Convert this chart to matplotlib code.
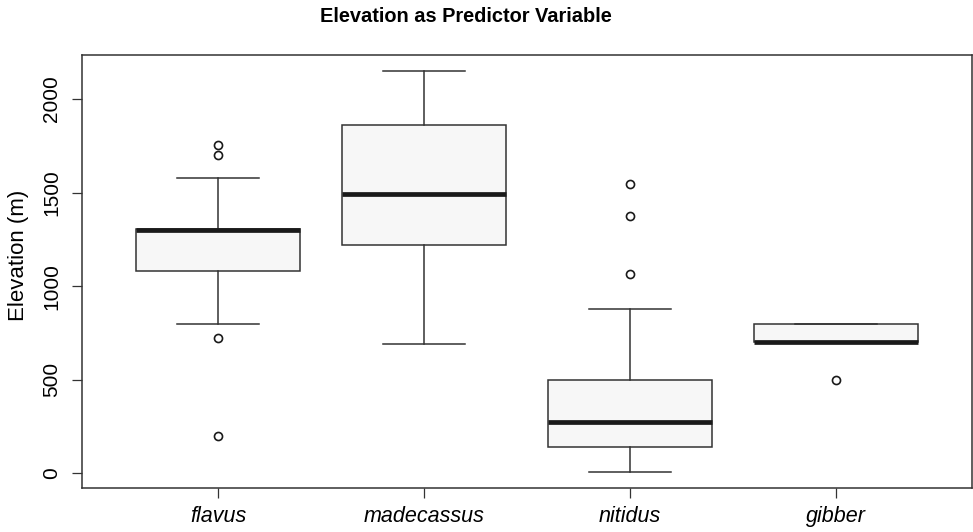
import matplotlib
matplotlib.use('Agg')
import matplotlib.pyplot as plt

plt.rcParams['font.family'] = ['Liberation Sans', 'DejaVu Sans']

species = ['flavus', 'madecassus', 'nitidus', 'gibber']
q1 = [1080, 1222, 140, 700]
med = [1300, 1490, 272, 700]
q3 = [1305, 1863, 500, 800]
whislo = [798, 690, 8, 700]
whishi = [1580, 2148, 877, 800]
fliers = [[1755, 1700, 720, 197], [], [1548, 1372, 1062], [500]]
yticks = [0, 500, 1000, 1500, 2000]

stats = []
for i in range(len(species)):
	stats.append(dict(label=species[i], q1=q1[i], med=med[i], q3=q3[i],
	                  whislo=whislo[i], whishi=whishi[i], fliers=fliers[i]))

fig = plt.figure(figsize=(9.73, 5.32), dpi=100)
ax = fig.add_axes([82 / 973, 44 / 532, 890 / 973, 433 / 532])

edge = '#333333'
ax.bxp(stats, positions=[1, 2, 3, 4], widths=0.8, patch_artist=True,
       boxprops=dict(facecolor='#f7f7f7', edgecolor=edge, linewidth=1.1),
       medianprops=dict(color='#1a1a1a', linewidth=3.4, solid_capstyle='butt'),
       whiskerprops=dict(color=edge, linewidth=1.1),
       capprops=dict(color=edge, linewidth=1.1),
       capwidths=0.4,
       flierprops=dict(marker='o', markersize=5.8, markerfacecolor='none',
                       markeredgecolor='#1a1a1a', markeredgewidth=1.2))

ax.set_xlim(0.34, 4.66)
ax.set_ylim(-79, 2235)
ax.set_yticks(yticks)
ax.set_yticklabels([str(v) for v in yticks], rotation=90, va='center')
ax.set_xticks([1, 2, 3, 4])
ax.set_xticklabels(species, fontstyle='italic', fontsize=15.5)
ax.tick_params(axis='y', length=7, width=0.9, color=edge, pad=8, labelsize=15)
ax.tick_params(axis='x', length=7, width=0.9, color=edge, pad=6)
for s in ax.spines.values():
	s.set_color(edge)
	s.set_linewidth(1.1)

fig.text(19 / 973, 1 - 255 / 532, 'Elevation (m)', rotation=90,
         ha='center', va='center', fontsize=16)
fig.text(466 / 973, 1 - 17 / 532, 'Elevation as Predictor Variable',
         ha='center', va='center', fontsize=14.4, fontweight='bold')

fig.savefig('out.png', dpi=100)
